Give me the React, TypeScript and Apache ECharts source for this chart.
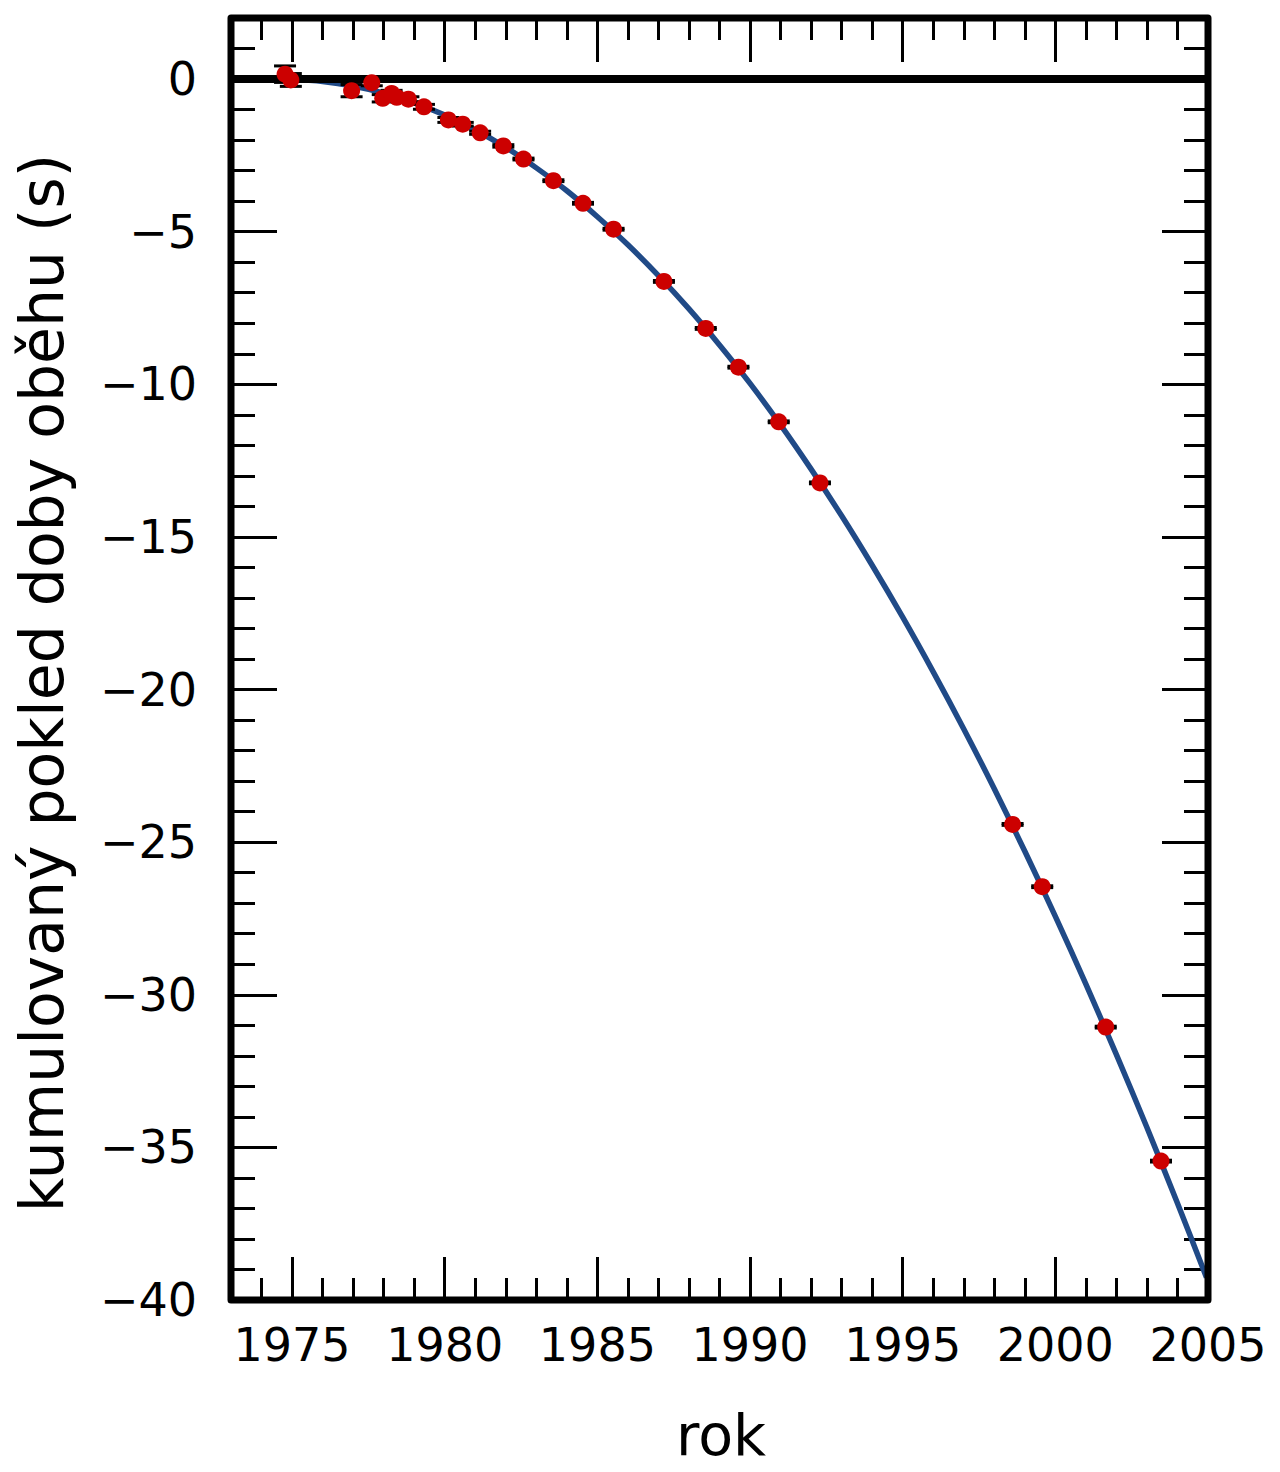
import React, { useEffect, useRef } from "react";
import * as echarts from "echarts";

// Measured data points (year, cumulative period shift in s, error)
const dotYears = [
  1974.77, 1974.96, 1976.95, 1977.61, 1977.97, 1978.26, 1978.43, 1978.81, 1979.32,
  1980.12, 1980.59, 1981.16, 1981.92, 1982.58, 1983.56, 1984.53, 1985.53, 1987.18,
  1988.55, 1989.62, 1990.94, 1992.29, 1998.6, 1999.57, 2001.65, 2003.46,
];
const dotValues = [
  0.16, -0.03, -0.38, -0.12, -0.63, -0.47, -0.6, -0.66, -0.91,
  -1.34, -1.48, -1.76, -2.19, -2.62, -3.33, -4.07, -4.92, -6.63,
  -8.17, -9.44, -11.23, -13.23, -24.42, -26.46, -31.06, -35.45,
];
const dotErrors = [
  0.27, 0.21, 0.2, 0.1, 0.12, 0.1, 0.1, 0.08, 0.08,
  0.08, 0.06, 0.05, 0.04, 0.03, 0.03, 0.03, 0.03, 0.03,
  0.03, 0.03, 0.03, 0.03, 0.03, 0.03, 0.03, 0.03,
];

// GR prediction curve
const curveYears = [
  1974.9, 1976, 1977, 1978, 1979, 1980, 1981, 1982, 1983, 1984, 1985, 1986, 1987,
  1988, 1989, 1990, 1991, 1992, 1993, 1994, 1995, 1996, 1997, 1998, 1999, 2000,
  2001, 2002, 2003, 2004, 2004.95,
];
const curveValues = [
  0.0, -0.08, -0.23, -0.46, -0.78, -1.18, -1.67, -2.24, -2.91, -3.66, -4.51, -5.43, -6.44,
  -7.53, -8.71, -9.97, -11.33, -12.78, -14.31, -15.93, -17.63, -19.42, -21.29, -23.25, -25.3, -27.43,
  -29.65, -31.96, -34.35, -36.83, -39.26,
];

const zeroLineYears = [1973, 2005];
const zeroLineValues = [0, 0];

const xMajorTicks = [1975, 1980, 1985, 1990, 1995, 2000, 2005];
const xMinorTicks = [
  1973, 1974, 1975, 1976, 1977, 1978, 1979, 1980, 1981, 1982, 1983, 1984, 1985, 1986,
  1987, 1988, 1989, 1990, 1991, 1992, 1993, 1994, 1995, 1996, 1997, 1998, 1999, 2000,
  2001, 2002, 2003, 2004, 2005,
];
const yMajorTicks = [-40, -35, -30, -25, -20, -15, -10, -5, 0];
const yMinorTicks = [
  -39, -38, -37, -36, -35, -34, -33, -32, -31, -30, -29, -28, -27, -26, -25, -24, -23,
  -22, -21, -20, -19, -18, -17, -16, -15, -14, -13, -12, -11, -10, -9, -8, -7, -6, -5,
  -4, -3, -2, -1, 0, 1,
];

const X_MIN = 1973;
const X_MAX = 2005;
const Y_MIN = -40;
const Y_MAX = 2;

const xTitle = "rok";
const yTitle = "kumulovaný pokled doby oběhu (s)";

const FONT = "DejaVu Sans, Verdana, sans-serif";

const GRID_LEFT = 231;
const GRID_TOP = 18;
const GRID_RIGHT_X = 1208;
const GRID_BOTTOM_Y = 1300;
const W = 1280;
const H = 1472;

function fmtY(v: number): string {
  return v < 0 ? "\u2212" + Math.abs(v) : String(v);
}

export default function App() {
  const ref = useRef<HTMLDivElement>(null);

  useEffect(() => {
    if (!ref.current) return;
    const chart = echarts.init(ref.current, null, { renderer: "svg" });

    const tickStyle = { color: "#000", width: 3 };

    const xAxisDef = (position: string, length: number, ticks: number[], labels: boolean) => ({
      type: "value",
      position,
      min: X_MIN,
      max: X_MAX,
      axisLine: { show: false, onZero: false },
      splitLine: { show: false },
      axisTick: {
        show: true,
        inside: true,
        length,
        customValues: ticks,
        lineStyle: tickStyle,
      },
      axisLabel: labels
        ? {
            show: true,
            customValues: xMajorTicks,
            margin: 22,
            fontSize: 46,
            color: "#000",
            fontFamily: FONT,
            formatter: (v: number) => String(v),
          }
        : { show: false },
    });

    const yAxisDef = (position: string, length: number, ticks: number[], labels: boolean) => ({
      type: "value",
      position,
      min: Y_MIN,
      max: Y_MAX,
      axisLine: { show: false, onZero: false },
      splitLine: { show: false },
      axisTick: {
        show: true,
        inside: true,
        length,
        customValues: ticks,
        lineStyle: tickStyle,
      },
      axisLabel: labels
        ? {
            show: true,
            customValues: yMajorTicks,
            margin: 34,
            fontSize: 46,
            color: "#000",
            fontFamily: FONT,
            formatter: (v: number) => fmtY(v),
          }
        : { show: false },
    });

    const curveData = curveYears.map((x, i) => [x, curveValues[i]]);
    const zeroData = zeroLineYears.map((x, i) => [x, zeroLineValues[i]]);
    const dotData = dotYears.map((x, i) => [x, dotValues[i]]);
    const errData = dotYears.map((x, i) => [x, dotValues[i], dotErrors[i]]);

    const option: any = {
      animation: false,
      backgroundColor: "#fff",
      grid: {
        left: GRID_LEFT,
        top: GRID_TOP,
        right: W - GRID_RIGHT_X,
        bottom: H - GRID_BOTTOM_Y,
        containLabel: false,
      },
      xAxis: [
        xAxisDef("bottom", 43, xMajorTicks, true),
        xAxisDef("bottom", 22, xMinorTicks, false),
        xAxisDef("top", 44, xMajorTicks, false),
        xAxisDef("top", 22, xMinorTicks, false),
      ],
      yAxis: [
        yAxisDef("left", 46, yMajorTicks, true),
        yAxisDef("left", 24, yMinorTicks, false),
        yAxisDef("right", 46, yMajorTicks, false),
        yAxisDef("right", 24, yMinorTicks, false),
      ],
      series: [
        {
          type: "line",
          data: curveData,
          xAxisIndex: 0,
          yAxisIndex: 0,
          smooth: 0.3,
          symbol: "none",
          lineStyle: { color: "#204a87", width: 5.5 },
          z: 1,
          silent: true,
        },
        {
          type: "line",
          data: zeroData,
          xAxisIndex: 0,
          yAxisIndex: 0,
          symbol: "none",
          lineStyle: { color: "#000", width: 8 },
          z: 2,
          silent: true,
        },
        {
          type: "custom",
          data: errData,
          xAxisIndex: 0,
          yAxisIndex: 0,
          encode: { x: 0, y: 1 },
          z: 3,
          silent: true,
          renderItem: (_params: any, api: any) => {
            const x = api.value(0);
            const y = api.value(1);
            const e = api.value(2);
            const top = api.coord([x, y + e]);
            const bot = api.coord([x, y - e]);
            const hw = 11;
            const style = { stroke: "#000", lineWidth: 3 };
            return {
              type: "group",
              children: [
                { type: "line", shape: { x1: top[0], y1: top[1], x2: bot[0], y2: bot[1] }, style },
                { type: "line", shape: { x1: top[0] - hw, y1: top[1], x2: top[0] + hw, y2: top[1] }, style },
                { type: "line", shape: { x1: bot[0] - hw, y1: bot[1], x2: bot[0] + hw, y2: bot[1] }, style },
              ],
            };
          },
        },
        {
          type: "scatter",
          data: dotData,
          xAxisIndex: 0,
          yAxisIndex: 0,
          symbol: "circle",
          symbolSize: 17,
          itemStyle: { color: "#cc0000", opacity: 1 },
          z: 4,
          silent: true,
        },
      ],
      graphic: [
        {
          type: "rect",
          z: 100,
          silent: true,
          shape: {
            x: GRID_LEFT,
            y: GRID_TOP,
            width: GRID_RIGHT_X - GRID_LEFT,
            height: GRID_BOTTOM_Y - GRID_TOP,
          },
          style: { fill: "none", stroke: "#000", lineWidth: 7, lineJoin: "round" },
        },
        {
          type: "text",
          z: 100,
          x: 721,
          y: 1435,
          style: {
            text: xTitle,
            fontSize: 57,
            fontFamily: FONT,
            fill: "#000",
            textAlign: "center",
            textVerticalAlign: "middle",
          },
        },
        {
          type: "text",
          z: 100,
          x: 42,
          y: 683,
          rotation: Math.PI / 2,
          style: {
            text: yTitle,
            fontSize: 60,
            fontFamily: FONT,
            fill: "#000",
            textAlign: "center",
            textVerticalAlign: "middle",
          },
        },
      ],
    };

    chart.setOption(option);
    return () => {
      chart.dispose();
    };
  }, []);

  return (
    <div
      ref={ref}
      style={{ position: "absolute", left: 0, top: 0, width: W, height: H }}
    />
  );
}
